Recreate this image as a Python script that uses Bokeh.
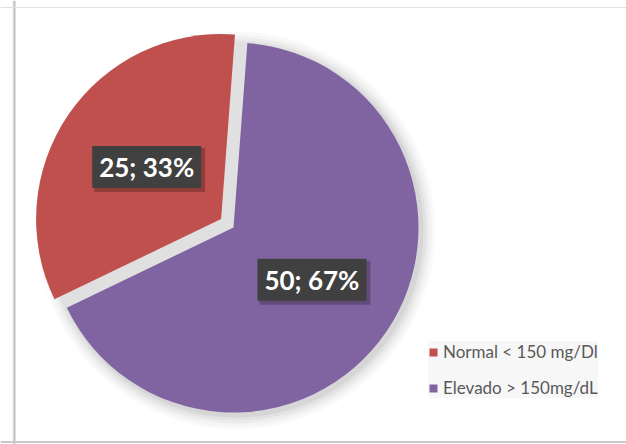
import math
from bokeh.plotting import figure
from bokeh.models import ColumnDataSource, Legend, LegendItem, Span
from bokeh.core.properties import value
from bokeh.embed import file_html
from bokeh.resources import INLINE

# ---- data ----
categories = ["Normal < 150 mg/Dl", "Elevado > 150mg/dL"]
counts = [25, 50]
colors = ["#C0504D", "#8064A2"]
explode = [15, 0]          # px offset of each slice
first_slice_deg = 205.7    # math angle where the first slice starts (clockwise)

# ---- layout ----
W, H = 626, 444
CX, CY, R = 233, 217, 185

p = figure(width=W, height=H, x_range=(0, W), y_range=(0, H),
           x_axis_type=None, y_axis_type=None, output_backend="svg",
           toolbar_location=None, min_border=0)
p.grid.visible = False
p.outline_line_color = None
p.background_fill_color = "white"

# frame lines
p.add_layout(Span(location=12.5, dimension="height", line_color="#e6e6e6", line_width=1))
p.add_layout(Span(location=14, dimension="height", line_color="#c0c0c0", line_width=2))
p.add_layout(Span(location=437, dimension="width", line_color="#e0e0e0", line_width=1))
p.add_layout(Span(location=2.5, dimension="width", line_color="#c8c8c8", line_width=2))

total = sum(counts)
xs, ys, a0s, a1s, mids, labels = [], [], [], [], [], []
cum = 0
for c, e in zip(counts, explode):
    a0 = first_slice_deg - cum * 360.0 / total
    a1 = a0 - c * 360.0 / total
    mid = math.radians((a0 + a1) / 2)
    xs.append(CX + e * math.cos(mid))
    ys.append(CY + e * math.sin(mid))
    a0s.append(math.radians(a0))
    a1s.append(math.radians(a1))
    mids.append(mid)
    labels.append(f"{c}; {round(c / total * 100)}%")
    cum += c

# soft shadow and gap fill
for k, a in [(14, 0.02), (11, 0.025), (8, 0.03), (5, 0.04), (2, 0.05)]:
    p.circle(x=CX + 3, y=CY - 3, radius=R + k, fill_color="black", fill_alpha=a, line_color=None)
p.circle(x=CX, y=CY, radius=R, fill_color="#e0e0e0", line_color=None)

src = ColumnDataSource(dict(x=xs, y=ys, start=a0s, end=a1s, color=colors, cat=categories))
wr = p.wedge(x="x", y="y", radius=R, start_angle="start", end_angle="end",
             direction="clock", fill_color="color", line_color=None, source=src)

# data labels
lx = [x + 0.5 * R * math.cos(m) + 2 for x, m in zip(xs, mids)]
ly = [y + 0.5 * R * math.sin(m) for y, m in zip(ys, mids)]
lsrc = ColumnDataSource(dict(x=lx, y=ly, sx=[v + 3 for v in lx], sy=[v - 3 for v in ly], text=labels))
p.rect(x="sx", y="sy", width=111, height=44, fill_color="black", fill_alpha=0.25, line_color=None, source=lsrc)
p.rect(x="x", y="y", width=109, height=42, fill_color="#404040", line_color=None, source=lsrc)
p.text(x="x", y="y", text="text", text_align="center", text_baseline="middle",
       text_color="white", text_font=value("Lato"), text_font_style="bold",
       text_font_size="26px", source=lsrc)

legend = Legend(items=[LegendItem(label=categories[i], renderers=[wr], index=i) for i in range(len(categories))],
                location=(428, 46), orientation="vertical",
                background_fill_color="#f7f7f7", background_fill_alpha=1.0,
                border_line_color=None, glyph_width=10, glyph_height=10,
                label_text_font="Lato", label_text_font_size="17px", label_text_color="#595959",
                label_standoff=5, label_height=20, spacing=15, padding=11, margin=0)
p.add_layout(legend)

open("out.html", "w").write(file_html(p, INLINE))
